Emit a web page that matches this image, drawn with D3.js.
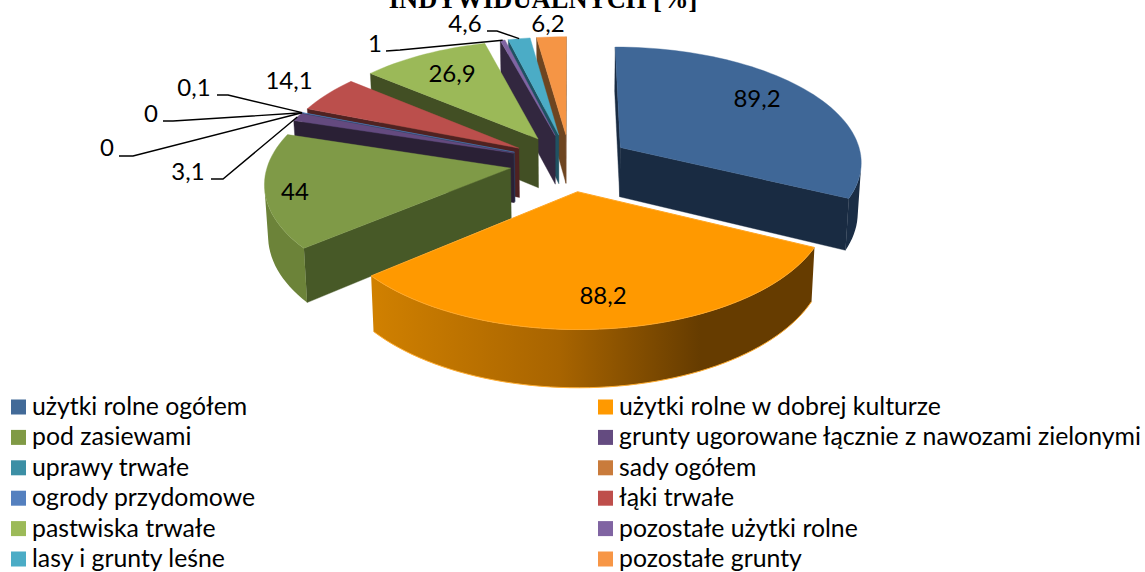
<!DOCTYPE html>
<html><head><meta charset="utf-8">
<script src="https://cdnjs.cloudflare.com/ajax/libs/d3/7.8.5/d3.min.js"></script>
<style>html,body{margin:0;padding:0;background:#fff;overflow:hidden}svg{display:block}
.lb{font-family:Lato,sans-serif;fill:#000}</style></head><body><svg id="c" width="1145" height="572"></svg>
<script>
const categories=["użytki rolne ogółem","użytki rolne w dobrej kulturze","pod zasiewami","grunty ugorowane łącznie z nawozami zielonymi","uprawy trwałe","sady ogółem","ogrody przydomowe","łąki trwałe","pastwiska trwałe","pozostałe użytki rolne","lasy i grunty leśne","pozostałe grunty"];
const values=[89.2,88.2,44,3.1,0,0,0.1,14.1,26.9,1,4.6,6.2];
const valueLabels=["89,2","88,2","44","3,1","0","0","0,1","14,1","26,9","1","4,6","6,2"];
const topColors=["#3F6797","#FF9900","#7F9A47","#644A7F","#3A8DA5","#C97B3B","#5480BF","#BB4F4C","#9BB958","#8064A2","#4BACC6","#F59545"];
const wallColors=["#192B42","#663C00","#475927","#2A2035","#1F5262","#6E4520","#2A4060","#4F2221","#424F24","#32273F","#1F5262","#6E4520"];
const rimColors=["#1A2D45","url(#orangeRim)","#6C8339","#2A2035","#1F5262","#6E4520","#2A4060","#5C2625","#56672D","#32273F","#1F5262","#6E4520"];
const legendColors=["#426A98","#FF9900","#809A45","#644B80","#3C8FA5","#C97B3B","#5480BF","#BE4E4B","#9CBA58","#8064A2","#4BACC6","#F79646"];
const labelCenters=[[757,99],[603,296],[295,192],[188,172],[107,148],[151,114],[194,88],[289,81],[452,74],[375,44],[465,24],[548,24]];
const leaderElbows=[null,null,null,[[211,179],[223,179]],[[119,156],[133,156]],[[163,121],[173,121]],[[217,95],[228,95]],null,null,[[386,51],[400,50]],[[487,31],[497,31]],null];

const svg=d3.select("#c");
const cx=570,cy=162.5,F=246,A=116.8,B=0.115,H=50,explode=0.245,G=0.012,R=0.985;
const segStep=Math.PI/90;
function proj(x,z,h){
  const s=1/(1+B*z);
  return [cx+F*x*s*(1-G*h),cy-A*z*s+H*h*s];
}
const pie=d3.pie().sort(null).value(d=>d).startAngle(0).endAngle(2*Math.PI);
const arcs=pie(values).map((a,i)=>({...a,i,mid:(a.startAngle+a.endAngle)/2}));
const line=d3.line();
const poly=p=>line(p)+"Z";
const area=p=>d3.polygonArea(p);
function pt(a,t,r,h){
  const ox=explode*Math.sin(a.mid),oz=explode*Math.cos(a.mid);
  return proj(ox+r*Math.sin(t),oz+r*Math.cos(t),h);
}
const grad=svg.append("defs").append("linearGradient").attr("id","orangeRim")
  .attr("gradientUnits","userSpaceOnUse").attr("x1",373).attr("x2",700).attr("y1",0).attr("y2",0);
[[0,"#D08000"],[0.57,"#A86400"],[1,"#663C00"]].forEach(s=>grad.append("stop").attr("offset",s[0]).attr("stop-color",s[1]));
const order=arcs.filter(a=>a.value>0).sort((p,q)=>Math.cos(q.mid)-Math.cos(p.mid));
const g=svg.append("g");
order.forEach(a=>{
  const i=a.i;
  const ts=d3.range(a.startAngle,a.endAngle,segStep).concat([a.endAngle]);
  const apexT=pt(a,0,0,0),apexB=pt(a,0,0,1);
  const wall=(p,c)=>{ if(area(p)>0) g.append("path").attr("d",poly(p)).attr("fill",c).attr("stroke",c).attr("stroke-width",0.4); };
  const s=a.startAngle,e=a.endAngle;
  wall([apexT,pt(a,s,R,0),pt(a,s,R,1),apexB],wallColors[i]);
  wall([pt(a,e,R,0),apexT,apexB,pt(a,e,R,1)],wallColors[i]);
  // outer curved wall as one shape over the segments that face the viewer
  const seen=d3.pairs(ts).filter(([t1,t2])=>area([pt(a,t1,R,0),pt(a,t2,R,0),pt(a,t2,R,1),pt(a,t1,R,1)])>0);
  if(seen.length){
    const tv=[seen[0][0]].concat(seen.map(p=>p[1]));
    const shape=tv.map(t=>pt(a,t,R,0)).concat(tv.slice().reverse().map(t=>pt(a,t,R,1)));
    g.append("path").attr("d",poly(shape)).attr("fill",rimColors[i]);
    if(i===1) g.append("path").attr("d",line(tv.map(t=>pt(a,t,R,1)))).attr("fill","none").attr("stroke","#FFAE33").attr("stroke-width",1);
  }
  const top=[apexT].concat(ts.map(t=>pt(a,t,R,0)));
  g.append("path").attr("d",poly(top)).attr("fill",topColors[i]).attr("stroke",i===1?"#FFA726":topColors[i]).attr("stroke-width",i===1?1:0.4);
});

// leader lines
const rim=i=>pt(arcs[i],arcs[i].mid,R,0);
leaderElbows.forEach((el,i)=>{
  if(!el) return;
  svg.append("path").attr("d",line(el.concat([rim(i)]))).attr("fill","none").attr("stroke","#000").attr("stroke-width",1.4);
});
// value labels
svg.selectAll("text.v").data(valueLabels).join("text").attr("class","v lb")
  .attr("x",(d,i)=>labelCenters[i][0]).attr("y",(d,i)=>labelCenters[i][1]+8)
  .attr("text-anchor","middle").attr("font-size",24).text(d=>d);

// title (cut by the top edge)
svg.append("text").attr("x",543).attr("y",8).attr("text-anchor","middle")
  .attr("font-family","'Liberation Serif',serif").attr("font-weight","bold").attr("font-size",26.5).text("INDYWIDUALNYCH [%]");

// legend
const rowY=d3.scaleLinear().domain([0,5]).range([407,559]);
const colX=[11,598];
const lg=svg.selectAll("g.l").data(categories).join("g").attr("class","l")
  .attr("transform",(d,i)=>`translate(${colX[i%2]},${rowY(Math.floor(i/2))})`);
lg.append("rect").attr("x",0).attr("y",-7.5).attr("width",15).attr("height",15).attr("fill",(d,i)=>legendColors[i]);
lg.append("text").attr("class","lb").attr("x",21).attr("y",8).attr("font-size",24.8).text(d=>d);
</script></body></html>
